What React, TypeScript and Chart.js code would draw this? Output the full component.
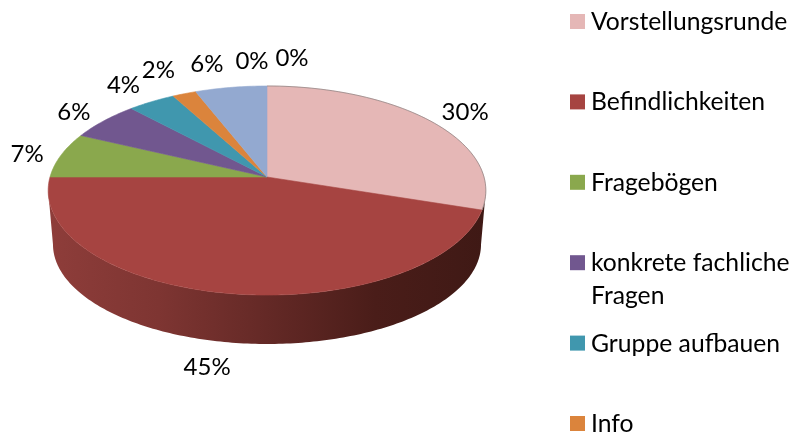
import React, { useEffect, useRef } from "react";
import { Chart, registerables } from "chart.js";

Chart.register(...registerables);

const sliceValues = [30, 45, 7, 6, 4, 2, 6, 0, 0];
const percentLabels = ["30%", "45%", "7%", "6%", "4%", "2%", "6%", "0%", "0%"];
const sliceColors = ["#E5B7B6", "#A64441", "#8AA84D", "#71578F", "#4097AE", "#DB843C", "#93A9D0", "#93A9D0", "#93A9D0"];
const legendNames: string[][] = [
  ["Vorstellungsrunde"],
  ["Befindlichkeiten"],
  ["Fragebögen"],
  ["konkrete fachliche", "Fragen"],
  ["Gruppe aufbauen"],
  ["Info"],
];
const categories = legendNames.map((l) => l.join(" ")).concat(["", "", ""]);
const labelNudges = [[35, -9], [-21, 73.5], [-34, -1], [-30, -9], [-28, -16], [-26, -23], [-24, -23], [-15, -25], [25, -28]];

const FONT = "Lato, Carlito, sans-serif";
const PERSP = 0.1293;
const TILT = 0.4737;

function project(a: number, cx: number, cy: number, R: number, tilt = TILT, dy = 0) {
  const u = Math.cos(a);
  const v = -Math.sin(a);
  const d = 1 + PERSP * v;
  return { x: cx + (R * u) / d, y: cy + dy - (R * tilt * v) / d };
}

const pie3d = {
  id: "pie3d",
  beforeDatasetsDraw(chart: any) {
    const { ctx } = chart;
    const arcs = chart.getDatasetMeta(0).data;
    const cx = arcs[0].x;
    const cy = arcs[0].y;
    const R = arcs[0].outerRadius;
    const botR = R * 0.978;
    const botTilt = 0.4615;
    const depth = 54.5;
    ctx.save();

    // side wall: spans the widest points of the projected rim, top face hides the rest
    const grad = ctx.createLinearGradient(cx - R, 0, cx + R, 0);
    grad.addColorStop(0, "#8E3D3A");
    grad.addColorStop(0.25, "#7E3532");
    grad.addColorStop(0.5, "#642926");
    grad.addColorStop(0.75, "#4A1D19");
    grad.addColorStop(1, "#3F1915");
    const wallStart = Math.asin(PERSP);
    const wallEnd = Math.PI - wallStart;
    const n = 180;
    ctx.beginPath();
    for (let k = 0; k <= n; k++) {
      const p = project(wallStart + ((wallEnd - wallStart) * k) / n, cx, cy, R);
      k ? ctx.lineTo(p.x, p.y) : ctx.moveTo(p.x, p.y);
    }
    for (let k = n; k >= 0; k--) {
      const p = project(wallStart + ((wallEnd - wallStart) * k) / n, cx, cy, botR, botTilt, depth);
      ctx.lineTo(p.x, p.y);
    }
    ctx.closePath();
    ctx.fillStyle = grad;
    ctx.fill();

    // top face
    arcs.forEach((arc: any, i: number) => {
      const span = arc.endAngle - arc.startAngle;
      if (span <= 0) return;
      const steps = Math.max(8, Math.ceil(span * 60));
      ctx.beginPath();
      ctx.moveTo(cx, cy);
      for (let k = 0; k <= steps; k++) {
        const p = project(arc.startAngle + (span * k) / steps, cx, cy, R);
        ctx.lineTo(p.x, p.y);
      }
      ctx.closePath();
      ctx.fillStyle = sliceColors[i];
      ctx.strokeStyle = sliceColors[i];
      ctx.lineWidth = 0.6;
      ctx.fill();
      ctx.stroke();
    });

    // faint rim on the pale slice
    const first = arcs[0];
    ctx.beginPath();
    for (let k = 0; k <= 60; k++) {
      const p = project(first.startAngle + ((first.endAngle - first.startAngle) * k) / 60, cx, cy, R);
      k ? ctx.lineTo(p.x, p.y) : ctx.moveTo(p.x, p.y);
    }
    ctx.strokeStyle = "rgba(110,110,110,0.55)";
    ctx.lineWidth = 1;
    ctx.stroke();

    // percent labels
    ctx.fillStyle = "#000";
    ctx.font = `24px ${FONT}`;
    ctx.textAlign = "center";
    ctx.textBaseline = "middle";
    arcs.forEach((arc: any, i: number) => {
      const p = project((arc.startAngle + arc.endAngle) / 2, cx, cy, R);
      ctx.fillText(percentLabels[i], p.x + labelNudges[i][0], p.y + labelNudges[i][1]);
    });

    // legend
    ctx.textAlign = "left";
    ctx.font = `24.7px ${FONT}`;
    legendNames.forEach((lines, i) => {
      const top = 14 + i * 80.4;
      ctx.fillStyle = sliceColors[i];
      ctx.fillRect(570, top, 15, 15);
      ctx.fillStyle = "#000";
      lines.forEach((line, j) => ctx.fillText(line, 591, top + 8 + j * 33));
    });

    ctx.restore();
    return false;
  },
};

export default function App() {
  const ref = useRef<HTMLCanvasElement>(null);
  useEffect(() => {
    const chart = new Chart(ref.current!, {
      type: "pie",
      data: {
        labels: categories,
        datasets: [{ data: sliceValues, backgroundColor: sliceColors, borderWidth: 0 }],
      },
      options: {
        responsive: false,
        animation: false,
        radius: 217,
        rotation: 0,
        layout: { padding: { left: 0, top: 0, right: 258, bottom: 81 } },
        plugins: { legend: { display: false }, tooltip: { enabled: false } },
      } as any,
      plugins: [pie3d as any],
    });
    return () => chart.destroy();
  }, []);
  return (
    <div style={{ position: "absolute", left: 0, top: 0, width: 792, height: 435, background: "#fff" }}>
      <canvas ref={ref} width={792} height={435} style={{ display: "block" }} />
    </div>
  );
}
